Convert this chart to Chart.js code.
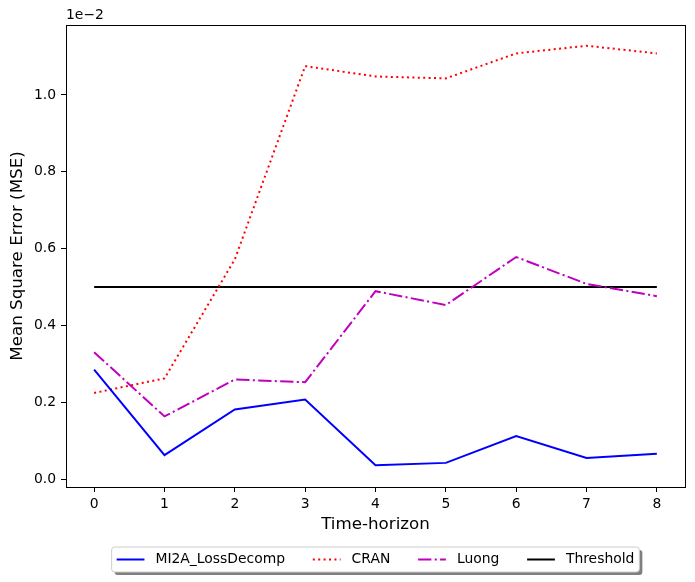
<!DOCTYPE html>
<html>
<head>
<meta charset="utf-8">
<script src="https://cdn.jsdelivr.net/npm/chart.js@4.4.1/dist/chart.umd.min.js"></script>
<style>
  html, body { margin: 0; padding: 0; background: #fff; }
  #wrap { width: 695px; height: 582px; }
</style>
</head>
<body>
<div id="wrap"><canvas id="chart" width="695" height="582"></canvas></div>
<script>
// values shown in units of 1e-2
const horizons = [0, 1, 2, 3, 4, 5, 6, 7, 8];
const mi2a = [0.285, 0.062, 0.181, 0.207, 0.036, 0.042, 0.112, 0.055, 0.066];
const cran = [0.224, 0.262, 0.572, 1.075, 1.048, 1.043, 1.108, 1.128, 1.108];
const luong = [0.330, 0.163, 0.259, 0.252, 0.489, 0.453, 0.578, 0.508, 0.476];
const threshold = [0.5, 0.5, 0.5, 0.5, 0.5, 0.5, 0.5, 0.5, 0.5];
const yTicks = [0.0, 0.2, 0.4, 0.6, 0.8, 1.0];

const FONT = 'DejaVu Sans';
const FS = 13.9;
const pts = arr => arr.map((v, i) => ({ x: horizons[i], y: v }));

const series = [
	{ label: 'MI2A_LossDecomp', data: mi2a, color: '#0000ff', dash: [] },
	{ label: 'CRAN', data: cran, color: '#ff0000', dash: [2, 3.4] },
	{ label: 'Luong', data: luong, color: '#bf00bf', dash: [13.3, 3.3, 2.1, 3.3] },
	{ label: 'Threshold', data: threshold, color: '#000000', dash: [] }
];

// рамка, подписи осей, множитель и легенда
const extras = {
	id: 'extras',
	afterDraw(chart) {
		const ctx = chart.ctx;
		const area = chart.chartArea;
		ctx.save();

		ctx.strokeStyle = '#000';
		ctx.lineWidth = 1;
		ctx.strokeRect(Math.round(area.left) + 0.5, Math.round(area.top) + 0.5,
			Math.round(area.right - area.left), Math.round(area.bottom - area.top));

		ctx.fillStyle = '#000';
		ctx.font = FS + 'px ' + FONT;
		ctx.textAlign = 'left';
		ctx.textBaseline = 'bottom';
		ctx.fillText('1e\u22122', area.left, area.top - 3);

		ctx.font = '16.7px ' + FONT;
		ctx.textAlign = 'center';
		ctx.textBaseline = 'middle';
		ctx.fillText('Time-horizon', (area.left + area.right) / 2, 525);

		ctx.save();
		ctx.translate(18, (area.top + area.bottom) / 2);
		ctx.rotate(-Math.PI / 2);
		ctx.fillText('Mean Square Error (MSE)', 0, 0);
		ctx.restore();

		// легенда
		ctx.font = FS + 'px ' + FONT;
		const handle = 27.8, gapText = 11, gapItem = 27.8, pad = 5;
		let total = 0;
		series.forEach((s, i) => {
			total += handle + gapText + ctx.measureText(s.label).width;
			if (i < series.length - 1) total += gapItem;
		});
		const boxW = total + 2 * pad, boxH = 25;
		const boxX = (area.left + area.right) / 2 - boxW / 2, boxY = 547;

		ctx.fillStyle = 'rgba(0,0,0,0.5)';
		roundRect(ctx, boxX + 3, boxY + 3, boxW, boxH, 3);
		ctx.fill();
		ctx.fillStyle = '#fff';
		ctx.strokeStyle = '#cccccc';
		ctx.lineWidth = 1;
		roundRect(ctx, boxX, boxY, boxW, boxH, 3);
		ctx.fill();
		ctx.stroke();

		let x = boxX + pad;
		const cy = boxY + boxH / 2;
		series.forEach(s => {
			ctx.strokeStyle = s.color;
			ctx.lineWidth = 2;
			ctx.setLineDash(s.dash);
			ctx.beginPath();
			ctx.moveTo(x, cy);
			ctx.lineTo(x + handle, cy);
			ctx.stroke();
			ctx.setLineDash([]);
			x += handle + gapText;
			ctx.fillStyle = '#000';
			ctx.textAlign = 'left';
			ctx.textBaseline = 'middle';
			ctx.fillText(s.label, x, cy);
			x += ctx.measureText(s.label).width + gapItem;
		});
		ctx.restore();
	}
};

function roundRect(ctx, x, y, w, h, r) {
	ctx.beginPath();
	ctx.moveTo(x + r, y);
	ctx.lineTo(x + w - r, y);
	ctx.quadraticCurveTo(x + w, y, x + w, y + r);
	ctx.lineTo(x + w, y + h - r);
	ctx.quadraticCurveTo(x + w, y + h, x + w - r, y + h);
	ctx.lineTo(x + r, y + h);
	ctx.quadraticCurveTo(x, y + h, x, y + h - r);
	ctx.lineTo(x, y + r);
	ctx.quadraticCurveTo(x, y, x + r, y);
	ctx.closePath();
}

const tickStyle = { color: '#000', font: { family: FONT, size: FS } };

new Chart(document.getElementById('chart'), {
	type: 'line',
	data: {
		datasets: series.map(s => ({
			label: s.label,
			data: pts(s.data),
			borderColor: s.color,
			borderWidth: 2,
			borderDash: s.dash,
			pointRadius: 0,
			fill: false,
			tension: 0
		}))
	},
	options: {
		responsive: false,
		animation: false,
		layout: { padding: { top: 25, right: 10, left: 0, bottom: 0 } },
		plugins: { legend: { display: false }, tooltip: { enabled: false } },
		scales: {
			x: {
				type: 'linear',
				min: -0.4,
				max: 8.4,
				afterBuildTicks: axis => { axis.ticks = horizons.map(v => ({ value: v })); },
				afterFit: axis => { axis.height = 95; },
				ticks: { ...tickStyle, padding: 4, callback: v => String(v) },
				grid: { drawOnChartArea: false, tickLength: 5, color: '#000', tickColor: '#000' },
				border: { color: '#000', width: 1 }
			},
			y: {
				min: -0.0208,
				max: 1.182,
				afterBuildTicks: axis => { axis.ticks = yTicks.map(v => ({ value: v })); },
				afterFit: axis => { axis.width = 66; },
				ticks: { ...tickStyle, padding: 5, callback: v => v.toFixed(1) },
				grid: { drawOnChartArea: false, tickLength: 5, color: '#000', tickColor: '#000' },
				border: { color: '#000', width: 1 }
			}
		}
	},
	plugins: [extras]
});
</script>
</body>
</html>
